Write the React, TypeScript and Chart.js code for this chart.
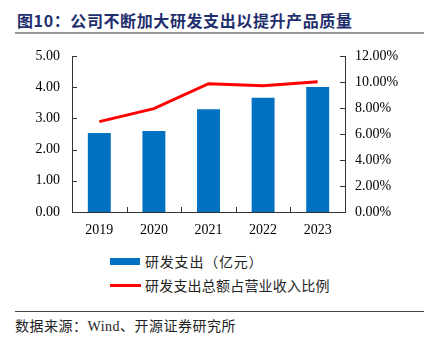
import React, { useEffect, useRef } from "react";
import { Chart, registerables } from "chart.js";

Chart.register(...registerables);

const years = ["2019", "2020", "2021", "2022", "2023"];
const rdSpend = [2.53, 2.6, 3.29, 3.66, 4.01];
const rdRatio = [6.95, 7.95, 9.87, 9.72, 10.02];
const leftTicks = [0, 1, 2, 3, 4, 5];
const rightTicks = [0, 2, 4, 6, 8, 10, 12];

const barLabel = "研发支出（亿元）";
const lineLabel = "研发支出总额占营业收入比例";

const inwardTicks = {
  id: "inwardTicks",
  afterDraw(chart: any) {
    const ctx = chart.ctx;
    const { x, y, y1 } = chart.scales;
    const area = chart.chartArea;
    ctx.save();
    ctx.strokeStyle = "#333";
    ctx.lineWidth = 1;
    ctx.beginPath();
    leftTicks.forEach((v) => {
      const py = Math.round(y.getPixelForValue(v)) + 0.5;
      ctx.moveTo(area.left, py);
      ctx.lineTo(area.left + 5, py);
    });
    rightTicks.forEach((v) => {
      const py = Math.round(y1.getPixelForValue(v)) + 0.5;
      ctx.moveTo(area.right, py);
      ctx.lineTo(area.right - 5, py);
    });
    for (let i = 0; i < years.length - 1; i++) {
      const px = Math.round((x.getPixelForValue(i) + x.getPixelForValue(i + 1)) / 2) + 0.5;
      ctx.moveTo(px, area.bottom);
      ctx.lineTo(px, area.bottom - 5);
    }
    ctx.stroke();
    ctx.restore();
  },
};

function ChartBox() {
  const ref = useRef<HTMLCanvasElement>(null);
  useEffect(() => {
    const tickFont = { family: "'Liberation Serif', 'Times New Roman', serif", size: 14 };
    const chart = new Chart(ref.current as HTMLCanvasElement, {
      type: "bar",
      data: {
        labels: years,
        datasets: [
          {
            type: "line",
            label: lineLabel,
            data: rdRatio,
            yAxisID: "y1",
            borderColor: "#FF0000",
            backgroundColor: "#FF0000",
            borderWidth: 3,
            pointRadius: 0,
            tension: 0,
            order: 0,
          } as any,
          {
            type: "bar",
            label: barLabel,
            data: rdSpend,
            yAxisID: "y",
            backgroundColor: "#0070C0",
            barPercentage: 0.42,
            categoryPercentage: 1,
            order: 1,
          },
        ],
      },
      options: {
        animation: false,
        responsive: false,
        maintainAspectRatio: false,
        layout: { padding: { top: 16, bottom: 0, left: 0, right: 0 } },
        plugins: { legend: { display: false }, tooltip: { enabled: false } },
        scales: {
          x: {
            grid: { display: false, drawTicks: false },
            border: { display: true, color: "#333" },
            ticks: { font: tickFont, color: "#000", padding: 10, maxRotation: 0 },
            afterFit: (s: any) => {
              s.height = 28;
              s.paddingLeft = 0;
              s.paddingRight = 0;
            },
          },
          y: {
            position: "left",
            min: 0,
            max: 5,
            grid: { display: false, drawTicks: false },
            border: { display: true, color: "#333" },
            ticks: {
              stepSize: 1,
              font: tickFont,
              color: "#000",
              padding: 12,
              callback: (v: any) => Number(v).toFixed(2),
            },
            afterFit: (s: any) => {
              s.width = 72;
              s.paddingTop = 0;
              s.paddingBottom = 0;
            },
          },
          y1: {
            position: "right",
            min: 0,
            max: 12,
            grid: { display: false, drawTicks: false },
            border: { display: true, color: "#333" },
            ticks: {
              stepSize: 2,
              font: tickFont,
              color: "#000",
              padding: 10,
              callback: (v: any) => Number(v).toFixed(2) + "%",
            },
            afterFit: (s: any) => {
              s.width = 79;
              s.paddingTop = 0;
              s.paddingBottom = 0;
            },
          },
        },
      },
      plugins: [inwardTicks],
    });
    return () => chart.destroy();
  }, []);
  return <canvas ref={ref} width={424} height={200} style={{ width: 424, height: 200, display: "block" }} />;
}

export default function App() {
  const cjk = "'Noto Sans CJK SC', 'Noto Sans', sans-serif";
  return (
    <div
      style={{
        position: "absolute",
        left: 0,
        top: 0,
        width: 424,
        height: 340,
        background: "#fff",
        overflow: "hidden",
        fontFamily: cjk,
      }}
    >
      <div
        style={{
          position: "absolute",
          left: 17,
          top: 8,
          fontSize: 16,
          lineHeight: "24px",
          fontWeight: 700,
          color: "#1F2F6E",
          letterSpacing: 0.6,
          whiteSpace: "nowrap",
        }}
      >
        图10：公司不断加大研发支出以提升产品质量
      </div>
      <div style={{ position: "absolute", left: 15, right: 0, top: 32, height: 2, background: "#999" }} />
      <div style={{ position: "absolute", left: 0, top: 40 }}>
        <ChartBox />
      </div>
      <div style={{ position: "absolute", left: 110, top: 258, width: 30, height: 7, background: "#0070C0" }} />
      <div
        style={{
          position: "absolute",
          left: 145,
          top: 251,
          fontSize: 14,
          lineHeight: "20px",
          color: "#222",
          letterSpacing: 0.8,
          whiteSpace: "nowrap",
        }}
      >
        {barLabel}
      </div>
      <div style={{ position: "absolute", left: 110, top: 284, width: 31, height: 3, background: "#FF0000" }} />
      <div
        style={{
          position: "absolute",
          left: 145,
          top: 275,
          fontSize: 14,
          lineHeight: "20px",
          color: "#222",
          letterSpacing: 0.2,
          whiteSpace: "nowrap",
        }}
      >
        {lineLabel}
      </div>
      <div style={{ position: "absolute", left: 15, right: 0, top: 311, height: 1, background: "#444" }} />
      <div
        style={{
          position: "absolute",
          left: 15,
          top: 315,
          fontSize: 14,
          lineHeight: "20px",
          color: "#222",
          letterSpacing: 0.5,
          whiteSpace: "nowrap",
        }}
      >
        数据来源：
        <span style={{ fontFamily: "'Liberation Serif', serif" }}>Wind</span>
        、开源证券研究所
      </div>
    </div>
  );
}
